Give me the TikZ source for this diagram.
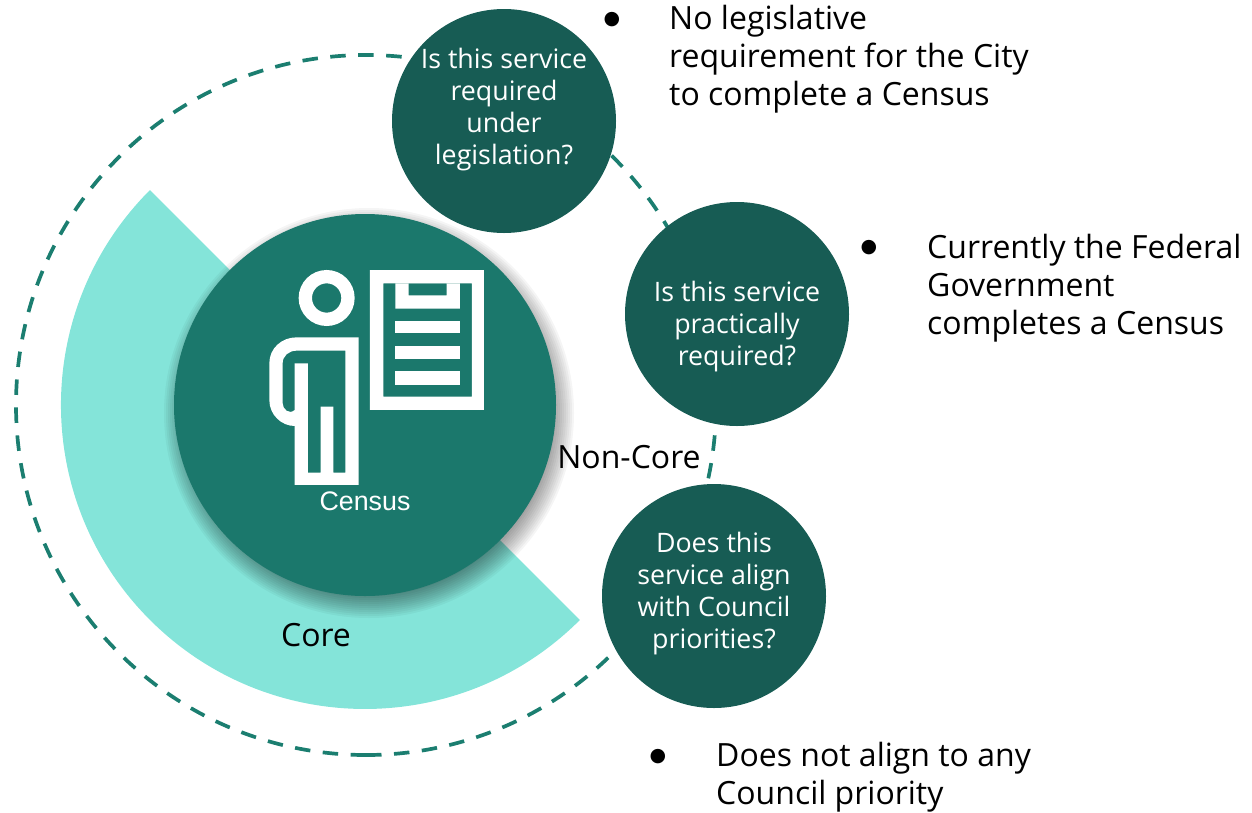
\documentclass[tikz,border=0pt]{standalone}
\usepackage{fontspec}
\setmainfont{Open Sans}
\newfontfamily\censusfont{Liberation Sans}
\newfontfamily\bulletfont{DejaVu Sans}
\usepackage{tikz}
\usetikzlibrary{positioning}
\definecolor{ringC}{HTML}{1B7E70}
\definecolor{mintC}{HTML}{84E4D9}
\definecolor{mainC}{HTML}{1B786C}
\definecolor{askC}{HTML}{175C54}
\begin{document}
\begin{tikzpicture}
  [x=1pt,y=-1pt,
   ringL/.style={draw=ringC,line width=3.7pt,dash pattern=on 15.5pt off 12.5pt},
   mainN/.style={circle,fill=mainC,minimum size=382pt,inner sep=0pt},
   askN/.style={circle,fill=askC,minimum size=224pt,inner sep=0pt,text=white,align=center,font=\fontsize{26.8}{32}\selectfont},
   infoN/.style={anchor=north west,inner sep=0pt,align=left,font=\fontsize{32}{38}\selectfont},
   dotN/.style={inner sep=0pt,font=\bulletfont\fontsize{19}{19}\selectfont},
   plainN/.style={inner sep=0pt,font=\fontsize{32}{36}\selectfont}]

  \useasboundingbox (0,0) rectangle (1252,812);

  \coordinate (ringS) at (366,755);
  \draw[ringL] (ringS) arc[start angle=90,end angle=-270,radius=350];

  \fill[mintC] (365,405) -- (150,190) arc[start angle=225,end angle=45,radius=304] -- cycle;

  % soft shadow
  \foreach \r in {181,183,...,205}
    \fill[black,opacity=0.04] (369,413) circle[radius=\r];

  \node[mainN] (census) at (365,405) {};
  \node[askN] (legal)     at (504,121) {Is this service\\required\\under\\legislation?\\[-2pt]};
  \node[askN] (practical) at (737,314) {{}\\[14pt]Is this service\\practically\\required?};
  \node[askN] (council)   at (714,596) {Does this\\service align\\with Council\\priorities?\\[-20pt]};

  % person and clipboard
  \begin{scope}[shift={(170,210)},x=0.3333pt,y=-0.3333pt]
    \draw[white,line width=13.3pt] (470,264) circle[radius=64];
    \fill[white,even odd rule]
      (374,825) -- (566,825) -- (566,382) -- (380,382) .. controls (335,382) and (298,415) .. (298,460)
      -- (298,570) .. controls (298,615) and (335,648) .. (374,648) -- cycle
      (526,422) -- (380,422) .. controls (356,422) and (338,438) .. (338,460) -- (338,580)
      .. controls (338,598) and (358,615) .. (374,600) -- (374,460) -- (414,460) -- (414,788) -- (452,788)
      -- (452,590) -- (490,590) -- (490,788) -- (526,788) -- cycle;
    \fill[white,even odd rule]
      (600,180) rectangle (942,600) (640,220) rectangle (906,560);
    \fill[white,even odd rule]
      (676,220) rectangle (870,296) (716,220) rectangle (830,256);
    \fill[white] (676,333) rectangle (870,370);
    \fill[white] (676,408) rectangle (870,448);
    \fill[white] (676,484) rectangle (870,524);
  \end{scope}

  \node[text=white,inner sep=0pt,font=\censusfont\fontsize{26.8}{30}\selectfont] (censusT) at (365,501) {Census};
  \node[plainN] (noncore) at (629,457) {Non-Core};
  \node[plainN] (core)    at (316,635) {Core};

  \node[dotN] (dotA) at (612,20) {●};
  \node[infoN] (infoA) at (669,5) {No legislative\\requirement for the City\\to complete a Census};
  \node[dotN] (dotB) at (869,248) {●};
  \node[infoN] (infoB) at (927,234) {Currently the Federal\\Government\\completes a Census};
  \node[dotN] (dotC) at (658,757) {●};
  \node[infoN] (infoC) at (716,742) {Does not align to any\\Council priority};

\end{tikzpicture}
\end{document}
